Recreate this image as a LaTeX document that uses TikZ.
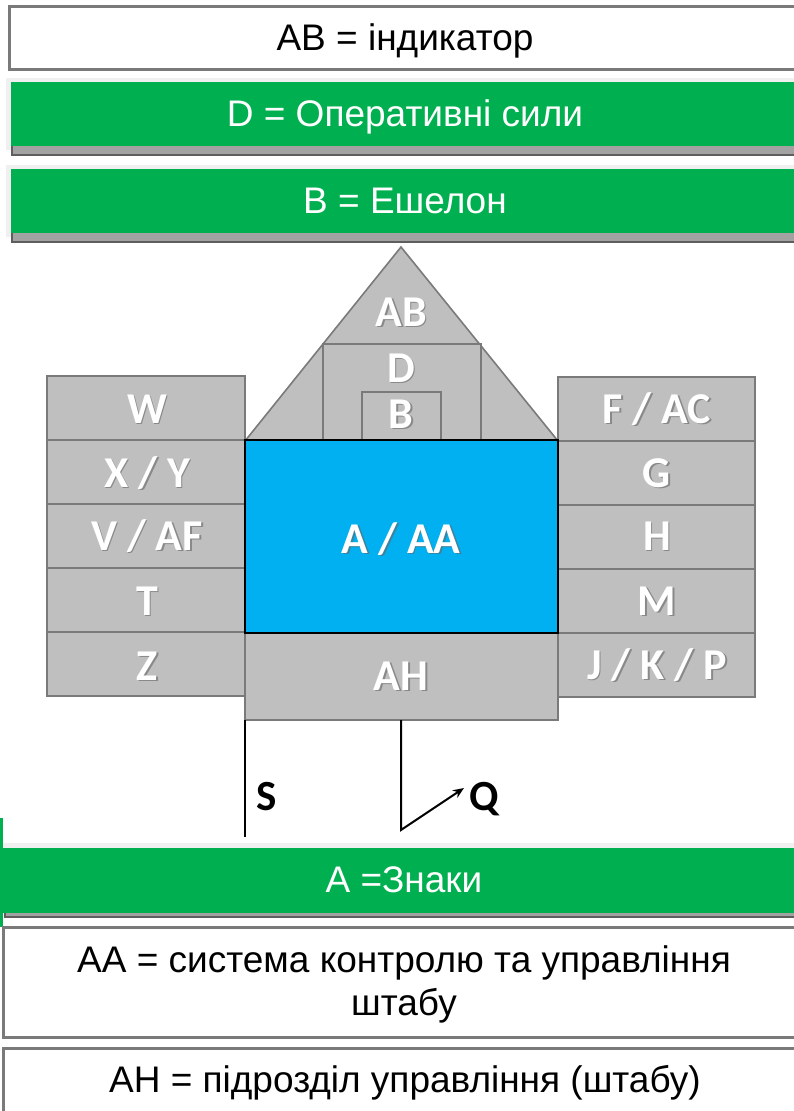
\documentclass[tikz,border=0pt]{standalone}
\usepackage{fontspec}
\setmainfont{Liberation Sans}
\newfontfamily\lblfont{Carlito}
\usetikzlibrary{arrows.meta}
\definecolor{grn}{HTML}{00B050}
\definecolor{blu}{HTML}{00B0F0}
\definecolor{gfill}{HTML}{BFBFBF}
\definecolor{gline}{HTML}{7A7A7A}
\definecolor{bline}{HTML}{5E5E5E}
\newcommand{\mylbl}[3]{%
  \node[lbltxt,text=black!60,opacity=.6] at ([shift={(1.8,1.8)}]#2) {#3};
  \node[lbltxt] (#1) at (#2) {#3};}
\begin{document}
\begin{tikzpicture}[x=1pt,y=-1pt,
  cell/.style={fill=gfill,draw=gline,line width=1.6pt},
  lbltxt/.style={font=\lblfont\bfseries\fontsize{44}{44}\selectfont,text=white,anchor=base,inner sep=0pt},
  bandtxt/.style={font=\fontsize{37}{43}\selectfont,anchor=base,inner sep=0pt},
  whiteband/.style={draw=gline,line width=3pt,fill=white},
  underband/.style={draw=bline,line width=2.5pt,fill=gfill!85!black},
  wire/.style={draw=black,line width=2pt}]
\useasboundingbox (0,0) rectangle (794,1111);
\clip (0,0) rectangle (794,1111);
\fill[white] (0,0) rectangle (794,1111);

% ---- top bands ----
\draw[whiteband] (9,6) rectangle (820,69);
\node[bandtxt] (tAB) at (405,50) {AB = індикатор};

\fill[black,opacity=.06] (6,78) rectangle (820,150);
\draw[underband] (12,92) rectangle (820,155);
\fill[grn] (11,82) rectangle (820,146);
\node[bandtxt,text=white] (tD) at (405,126.5) {D = Оперативні сили};

\fill[black,opacity=.06] (6,165) rectangle (820,237);
\draw[underband] (12,180) rectangle (820,242);
\fill[grn] (11,169) rectangle (820,233);
\node[bandtxt,text=white] (tB) at (405,213) {B = Ешелон};

% ---- central symbol ----
\draw[cell] (245,441) -- (401,247) -- (558,441) -- cycle;
\draw[cell] (323,344) rectangle (481,441);
\draw[cell] (362,392) rectangle (441,441);

\draw[cell] (47,376) rectangle (245,440);
\draw[cell] (47,440) rectangle (245,504);
\draw[cell] (47,504) rectangle (245,568);
\draw[cell] (47,568) rectangle (245,632);
\draw[cell] (47,632) rectangle (245,696);

\draw[cell] (558,377) rectangle (755,441);
\draw[cell] (558,441) rectangle (755,505);
\draw[cell] (558,505) rectangle (755,569);
\draw[cell] (558,569) rectangle (755,633);
\draw[cell] (558,633) rectangle (755,697);

\draw[cell] (245,633) rectangle (558,720);
\draw[fill=blu,draw=black,line width=2.5pt] (245,440) rectangle (558,633);

\mylbl{lAB}{401,326}{AB}
\mylbl{lD}{401,382}{D}
\mylbl{lB}{401,428}{B}
\mylbl{lW}{147,423}{W}
\mylbl{lXY}{147,487}{X / Y}
\mylbl{lVAF}{147,550}{V / AF}
\mylbl{lT}{147,615}{T}
\mylbl{lZ}{147,680}{Z}
\mylbl{lFAC}{657,423}{F / AC}
\mylbl{lG}{657,487}{G}
\mylbl{lH}{657,550}{H}
\mylbl{lM}{657,615}{M}
\mylbl{lJKP}{657,679}{J / K / P}
\mylbl{lAAA}{401,553}{A / AA}
\mylbl{lAH}{401,690}{AH}

% ---- S and Q ----
\coordinate (sTop) at (245,720);
\coordinate (sEnd) at (245,837);
\coordinate (qTop) at (401,720);
\coordinate (qBend) at (401,830);
\coordinate (qTip) at (464,788);
\draw[wire] (sTop) -- (sEnd);
\draw[wire,-{Stealth[length=11pt,width=9pt]}] (qTop) -- (qBend) -- (qTip);
\node[font=\lblfont\bfseries\fontsize{43}{43}\selectfont,anchor=base,inner sep=0pt] (lS) at (267,810) {S};
\node[font=\lblfont\bfseries\fontsize{43}{43}\selectfont,anchor=base,inner sep=0pt] (lQ) at (484,810) {Q};

% ---- bottom bands ----
\fill[grn] (0,818) rectangle (2.5,927);
\fill[black,opacity=.06] (3,843) rectangle (820,916);
\draw[underband] (5,858) rectangle (820,917);
\fill[grn] (3,848) rectangle (820,913);
\node[bandtxt,text=white] (tA) at (404,892) {A =Знаки};

\draw[whiteband] (3,927) rectangle (820,1037);
\node[bandtxt] (tAA1) at (404,972) {AA = система контролю та управління};
\node[bandtxt] (tAA2) at (404,1015) {штабу};

\draw[whiteband] (3,1048) rectangle (820,1140);
\node[bandtxt] (tAH) at (405,1092) {AH = підрозділ управління (штабу)};
\end{tikzpicture}
\end{document}
